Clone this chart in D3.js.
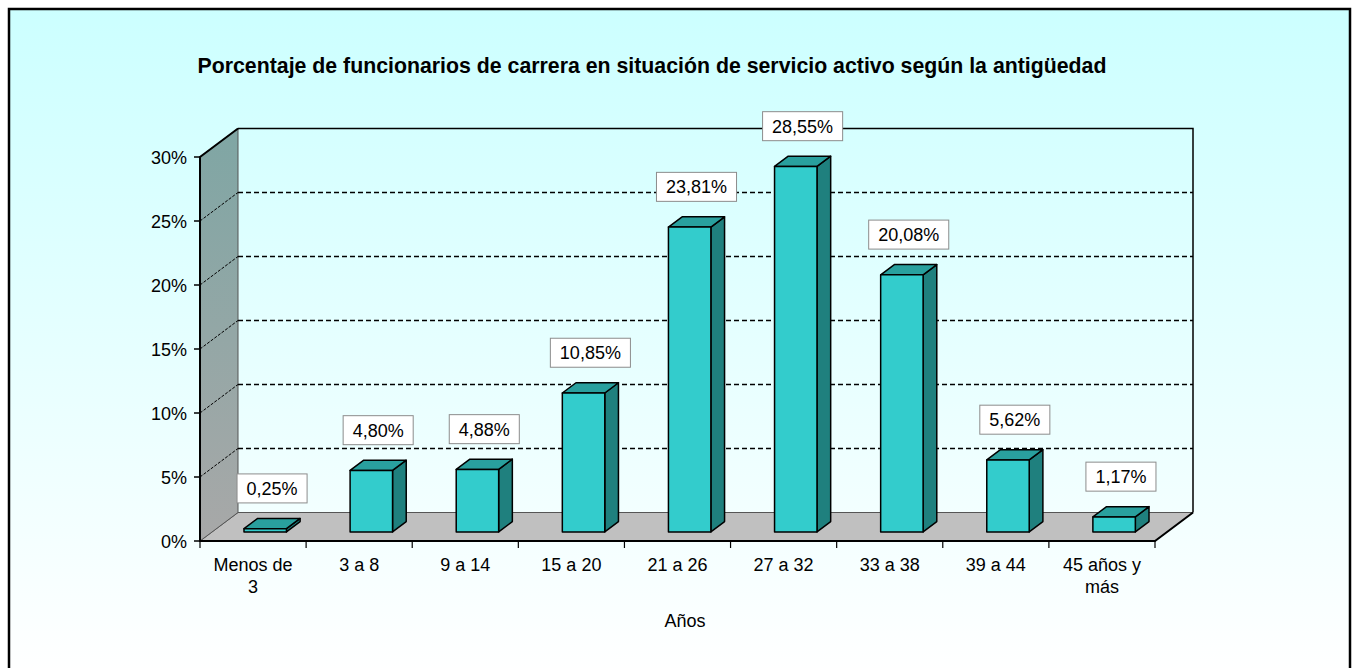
<!DOCTYPE html>
<html>
<head>
<meta charset="utf-8">
<script src="https://cdn.jsdelivr.net/npm/d3@7"></script>
<style>
    body { margin: 0; background: #ffffff; }
    text { font-family: Arial, "Liberation Sans", sans-serif; }
</style>
</head>
<body>
<script>
// Chart data
const categories = ["Menos de\n3", "3 a 8", "9 a 14", "15 a 20", "21 a 26", "27 a 32", "33 a 38", "39 a 44", "45 años y\nmás"];
const values = [0.25, 4.80, 4.88, 10.85, 23.81, 28.55, 20.08, 5.62, 1.17];
const yTicks = [0, 5, 10, 15, 20, 25, 30];
const title = "Porcentaje de funcionarios de carrera en situación de servicio activo según la antigüedad";
const xTitle = "Años";

// Spanish number format (decimal comma)
const esLocale = d3.formatLocale({ decimal: ",", thousands: ".", grouping: [3], currency: ["", " €"] });
const fmtLabel = esLocale.format(".2f");

const width = 1353, height = 668;

// Front plane of the 3D box
const plot = { left: 200, right: 1155, bottom: 541, top: 157 };
// Depth vector (front -> back wall)
const depth = { dx: 38, dy: -28.5 };
// Bars sit in the middle of the depth
const barDepth = [0.32, 0.68];

const svg = d3.select("body")
    .append("svg")
    .attr("width", width)
    .attr("height", height);

// Background gradient
const defs = svg.append("defs");
const bg = defs.append("linearGradient")
    .attr("id", "bg").attr("x1", 0).attr("y1", 0).attr("x2", 0).attr("y2", 1);
bg.append("stop").attr("offset", "0%").attr("stop-color", "#ccffff");
bg.append("stop").attr("offset", "100%").attr("stop-color", "#ffffff");

const wallGrad = defs.append("linearGradient")
    .attr("id", "wall").attr("x1", 0).attr("y1", 0).attr("x2", 0).attr("y2", 1);
wallGrad.append("stop").attr("offset", "0%").attr("stop-color", "#7fa6a4");
wallGrad.append("stop").attr("offset", "100%").attr("stop-color", "#a8a8a8");

svg.append("rect")
    .attr("x", 9).attr("y", 9)
    .attr("width", 1341).attr("height", 665)
    .attr("fill", "url(#bg)")
    .attr("stroke", "#000")
    .attr("stroke-width", 2.5);

// Scales
const xScale = d3.scaleBand()
    .domain(categories)
    .range([plot.left, plot.right])
    .paddingInner(0.6)
    .paddingOuter(0.3);

const xCat = d3.scaleBand()
    .domain(categories)
    .range([plot.left, plot.right])
    .padding(0);

const yScale = d3.scaleLinear()
    .domain([0, 30])
    .range([plot.bottom, plot.top]);

// project a point of the front plane back by a depth fraction
function pt(x, v, f) {
    return [x + f * depth.dx, yScale(v) + f * depth.dy];
}

const line = d3.line();

// Floor
svg.append("path")
    .attr("d", line([pt(plot.left, 0, 0), pt(plot.left, 0, 1), pt(plot.right, 0, 1), pt(plot.right, 0, 0)]) + "Z")
    .attr("fill", "#c0c0c0")
    .attr("stroke", "#555")
    .attr("stroke-width", 1);

// Side wall
svg.append("path")
    .attr("d", line([pt(plot.left, 0, 0), pt(plot.left, 30, 0), pt(plot.left, 30, 1), pt(plot.left, 0, 1)]) + "Z")
    .attr("fill", "url(#wall)")
    .attr("stroke", "#555")
    .attr("stroke-width", 1);

// Gridlines on the back wall and side wall
const grid = yTicks.filter(v => v > 0 && v < 30);
svg.selectAll(".grid-back")
    .data(grid)
    .enter().append("path")
    .attr("class", "grid-back")
    .attr("d", v => line([pt(plot.left, v, 1), pt(plot.right, v, 1)]))
    .attr("stroke", "#000")
    .attr("stroke-width", 1.6)
    .attr("stroke-dasharray", "5,3");

svg.selectAll(".grid-side")
    .data(grid)
    .enter().append("path")
    .attr("class", "grid-side")
    .attr("d", v => line([pt(plot.left, v, 0), pt(plot.left, v, 1)]))
    .attr("stroke", "#000")
    .attr("stroke-width", 1)
    .attr("stroke-dasharray", "3,1.5");

// Back wall top and right edge
svg.append("path")
    .attr("d", line([pt(plot.left, 30, 1), pt(plot.right, 30, 1), pt(plot.right, 0, 1)]))
    .attr("fill", "none")
    .attr("stroke", "#000")
    .attr("stroke-width", 1.5);

// Front edges (axis lines)
svg.append("path")
    .attr("d", line([pt(plot.left, 30, 1), pt(plot.left, 30, 0), pt(plot.left, 0, 0), pt(plot.right, 0, 0), pt(plot.right, 0, 1)]))
    .attr("fill", "none")
    .attr("stroke", "#000")
    .attr("stroke-width", 2);

// Y ticks and labels
svg.selectAll(".ytick")
    .data(yTicks)
    .enter().append("line")
    .attr("class", "ytick")
    .attr("x1", plot.left - 6).attr("x2", plot.left)
    .attr("y1", d => yScale(d)).attr("y2", d => yScale(d))
    .attr("stroke", "#000")
    .attr("stroke-width", 1.5);

svg.selectAll(".ylabel")
    .data(yTicks)
    .enter().append("text")
    .attr("class", "ylabel")
    .attr("x", plot.left - 13)
    .attr("y", d => yScale(d) + 6.5)
    .attr("text-anchor", "end")
    .attr("font-size", "18px")
    .text(d => d + "%");

// X ticks at category boundaries
const bounds = categories.map(d => xCat(d)).concat([plot.right]);
svg.selectAll(".xtick")
    .data(bounds)
    .enter().append("line")
    .attr("class", "xtick")
    .attr("x1", d => d).attr("x2", d => d)
    .attr("y1", plot.bottom).attr("y2", plot.bottom + 7)
    .attr("stroke", "#000")
    .attr("stroke-width", 1.2);

// Category labels (multi line)
const xl = svg.selectAll(".xlabel")
    .data(categories)
    .enter().append("text")
    .attr("class", "xlabel")
    .attr("text-anchor", "middle")
    .attr("font-size", "18px");

xl.selectAll("tspan")
    .data(d => d.split("\n").map(t => ({ t: t, c: d })))
    .enter().append("tspan")
    .attr("x", d => xCat(d.c) + xCat.bandwidth() / 2)
    .attr("y", (d, i) => 571 + i * 22)
    .text(d => d.t);

// Bars (front, top, side faces)
const data = categories.map((c, i) => ({ cat: c, value: values[i] }));
const [f1, f2] = barDepth;

const bars = svg.selectAll(".bar")
    .data(data)
    .enter().append("g")
    .attr("class", "bar");

bars.append("path")
    .attr("d", d => {
        const x0 = xScale(d.cat), x1 = x0 + xScale.bandwidth();
        return line([pt(x1, 0, f1), pt(x1, d.value, f1), pt(x1, d.value, f2), pt(x1, 0, f2)]) + "Z";
    })
    .attr("fill", "#1f807e")
    .attr("stroke", "#000")
    .attr("stroke-width", 1.5)
    .attr("stroke-linejoin", "round");

bars.append("path")
    .attr("d", d => {
        const x0 = xScale(d.cat), x1 = x0 + xScale.bandwidth();
        return line([pt(x0, d.value, f1), pt(x0, d.value, f2), pt(x1, d.value, f2), pt(x1, d.value, f1)]) + "Z";
    })
    .attr("fill", "#29a09e")
    .attr("stroke", "#000")
    .attr("stroke-width", 1.5)
    .attr("stroke-linejoin", "round");

bars.append("path")
    .attr("d", d => {
        const x0 = xScale(d.cat), x1 = x0 + xScale.bandwidth();
        return line([pt(x0, 0, f1), pt(x0, d.value, f1), pt(x1, d.value, f1), pt(x1, 0, f1)]) + "Z";
    })
    .attr("fill", "#33cccc")
    .attr("stroke", "#000")
    .attr("stroke-width", 1.5)
    .attr("stroke-linejoin", "round");

// Value labels in white boxes
const labels = svg.selectAll(".vlabel")
    .data(data)
    .enter().append("g")
    .attr("class", "vlabel")
    .attr("transform", d => {
        const cx = xScale(d.cat) + xScale.bandwidth() / 2 + 0.5 * depth.dx;
        const cy = yScale(d.value) + f2 * depth.dy - 30;
        return "translate(" + cx + "," + cy + ")";
    });

labels.append("text")
    .attr("text-anchor", "middle")
    .attr("y", 6.5)
    .attr("font-size", "18px")
    .text(d => fmtLabel(d.value) + "%");

labels.each(function () {
    const g = d3.select(this);
    const bb = g.select("text").node().getBBox();
    g.insert("rect", "text")
        .attr("x", -bb.width / 2 - 9.5)
        .attr("y", -14.5)
        .attr("width", bb.width + 19)
        .attr("height", 29)
        .attr("fill", "#fff")
        .attr("stroke", "#8c8c8c")
        .attr("stroke-width", 1);
});

// Title and axis title
svg.append("text")
    .attr("x", 652)
    .attr("y", 73)
    .attr("text-anchor", "middle")
    .attr("font-size", "21.3px")
    .attr("font-weight", "bold")
    .text(title);

svg.append("text")
    .attr("x", 685)
    .attr("y", 627)
    .attr("text-anchor", "middle")
    .attr("font-size", "18px")
    .text(xTitle);
</script>
</body>
</html>
